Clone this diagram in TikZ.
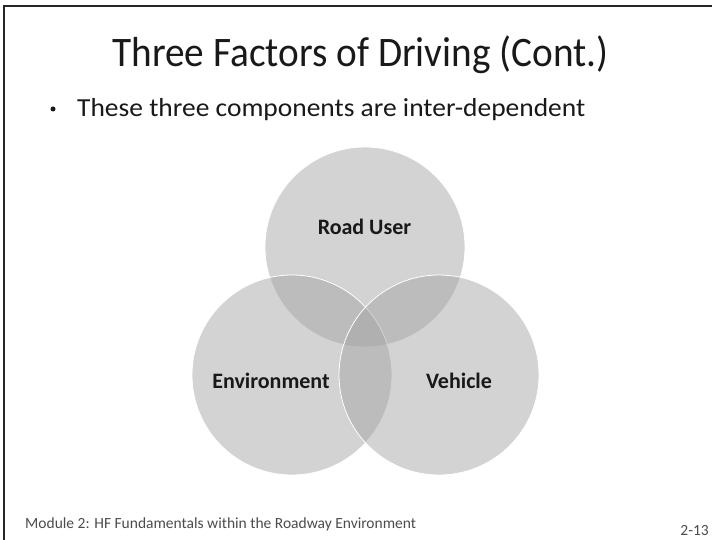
\documentclass[tikz,border=0pt]{standalone}
\usepackage{fontspec}
\setmainfont{Carlito}
\usepackage{graphicx}
\begin{document}
\begin{tikzpicture}[x=1pt,y=-1pt,
  venn/.style={circle,minimum size=200pt,inner sep=0pt,draw=white,line width=0.8pt,fill=black!36,fill opacity=0.47},
  lbl/.style={font=\fontsize{22}{24}\selectfont\bfseries,text=black!90,anchor=base,inner sep=0pt},
  foot/.style={font=\fontsize{15.5}{18}\selectfont,text=black!70,inner sep=0pt},
  ]
\useasboundingbox (0,0) rectangle (712,540);
\fill[white] (0,0) rectangle (712,540);
\draw[black!85,line width=1.6pt] (712,6) -- (4,6) -- (4,540);
\node[font=\fontsize{42}{46}\selectfont,text=black!90,anchor=base,inner sep=0pt] (title) at (360.5,67) {\scalebox{0.935}[1]{Three Factors of Driving (Cont.)}};
\node[circle,fill=black!90,minimum size=5pt,inner sep=0pt] (dot) at (53,109) {};
\node[font=\fontsize{26}{30}\selectfont,text=black!90,anchor=base west,inner sep=0pt] (bul) at (77,117) {\scalebox{1.056}[1]{These three components are inter-dependent}};
\node[venn] (ru) at (365,247) {};
\node[venn] (env) at (292,375) {};
\node[venn] (veh) at (439,375) {};
\node[lbl] (lru) at (364.5,234) {Road User};
\node[lbl] (lenv) at (271,388) {Environment};
\node[lbl] (lveh) at (459,388) {Vehicle};
\node[foot,anchor=base west] (ft) at (25,528) {Module 2: HF Fundamentals within the Roadway Environment};
\node[foot,anchor=base east] (pg) at (709,535) {2-13};
\end{tikzpicture}
\end{document}
